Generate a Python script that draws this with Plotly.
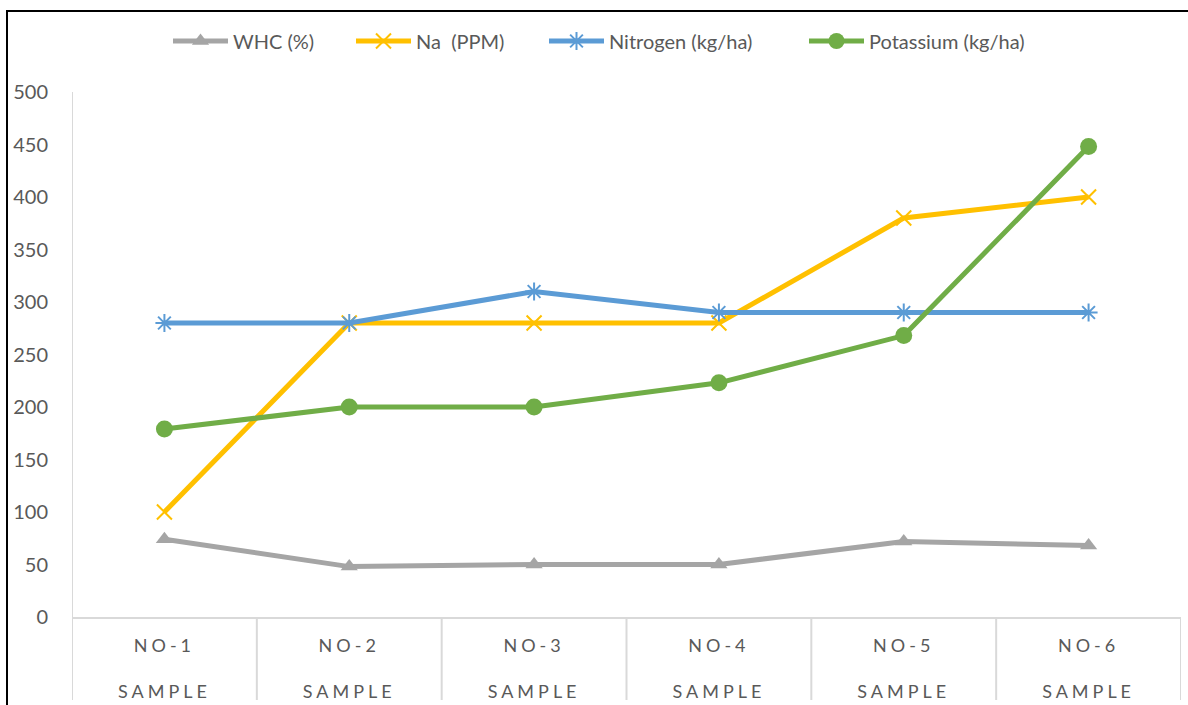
import plotly.graph_objects as go

categories = ["NO-1", "NO-2", "NO-3", "NO-4", "NO-5", "NO-6"]
sublabel = "SAMPLE"
whc = [74, 48, 50, 50, 72, 68]
na = [100, 280, 280, 280, 380, 400]
nitrogen = [280, 280, 310, 290, 290, 290]
potassium = [179, 200, 200, 223, 268, 448]
y_ticks = [0, 50, 100, 150, 200, 250, 300, 350, 400, 450, 500]

x = list(range(len(categories)))
FONT = "Lato, Carlito, Calibri, sans-serif"
TXT = "#595959"
W, H = 1188, 705
ML, MR, MT, MB = 72, 7, 92, 88
PW, PH = W - ML - MR, H - MT - MB

def px_x(p):
    return (p - ML) / PW

def px_y(p):
    return 1 + (MT - p) / PH

fig = go.Figure()
fig.add_trace(go.Scatter(x=x, y=whc, name="WHC (%)", mode="lines+markers", legend="legend",
                         line=dict(color="#A5A5A5", width=5),
                         marker=dict(symbol="triangle-up", size=15, color="#A5A5A5")))
fig.add_trace(go.Scatter(x=x, y=na, name="Na  (PPM)", mode="lines+markers", legend="legend2",
                         line=dict(color="#FFC000", width=5),
                         marker=dict(symbol="x-thin", size=15, color="#FFC000",
                                     line=dict(color="#FFC000", width=2))))
fig.add_trace(go.Scatter(x=x, y=nitrogen, name="Nitrogen (kg/ha)", mode="lines+markers", legend="legend3",
                         line=dict(color="#5B9BD5", width=5),
                         marker=dict(symbol="asterisk", size=15, color="#5B9BD5",
                                     line=dict(color="#5B9BD5", width=2))))
fig.add_trace(go.Scatter(x=x, y=potassium, name="Potassium (kg/ha)", mode="lines+markers", legend="legend4",
                         line=dict(color="#70AD47", width=5),
                         marker=dict(symbol="circle", size=17, color="#70AD47")))

shapes = []
for i in range(len(categories) + 1):
    shapes.append(dict(type="line", xref="x", yref="paper", x0=i - 0.5, x1=i - 0.5,
                       y0=px_y(700), y1=0, line=dict(color="#D9D9D9", width=2), layer="below"))
shapes.append(dict(type="line", xref="x", yref="paper", x0=-0.5, x1=-0.5, y0=px_y(700), y1=1,
                   line=dict(color="#D9D9D9", width=2), layer="below"))
shapes.append(dict(type="rect", xref="paper", yref="paper", x0=px_x(7), x1=px_x(1230),
                   y0=px_y(760), y1=px_y(11), line=dict(color="black", width=2)))

legend_starts = [172, 355, 548, 808]
legend_common = dict(orientation="h", yanchor="middle", y=px_y(41), xanchor="left",
                     font=dict(family=FONT, size=20, color=TXT), itemwidth=55,
                     bgcolor="rgba(0,0,0,0)", borderwidth=0)
legends = {}
for i, s in enumerate(legend_starts):
    key = "legend" if i == 0 else f"legend{i+1}"
    legends[key] = dict(legend_common, x=px_x(s - 4))

fig.update_layout(
    width=W, height=H,
    margin=dict(l=ML, r=MR, t=MT, b=MB, autoexpand=False),
    paper_bgcolor="white", plot_bgcolor="white",
    font=dict(family=FONT, color=TXT, size=18),
    showlegend=True,
    xaxis=dict(range=[-0.5, len(categories) - 0.5], tickmode="array", tickvals=x,
               ticktext=[f"{c}<br><br>{sublabel}" for c in categories], automargin=False,
               showgrid=False, zeroline=False, showline=True, linecolor="#D9D9D9", linewidth=2,
               ticks="", ticklabelstandoff=11, tickfont=dict(size=18, color=TXT)),
    yaxis=dict(range=[0, 500], tickmode="array", tickvals=y_ticks, automargin=False,
               showgrid=False, zeroline=False, showline=False,
               ticks="", ticklabelstandoff=23, tickfont=dict(size=20, color=TXT)),
    shapes=shapes,
    **legends,
)

post = """
document.body.style.margin='0';
document.body.style.overflow='hidden';
document.querySelectorAll('.xtick text, .xtick tspan').forEach(function(t){t.style.letterSpacing='4px';});
"""
fig.write_html("out.html", post_script=post, config={"displayModeBar": False})
